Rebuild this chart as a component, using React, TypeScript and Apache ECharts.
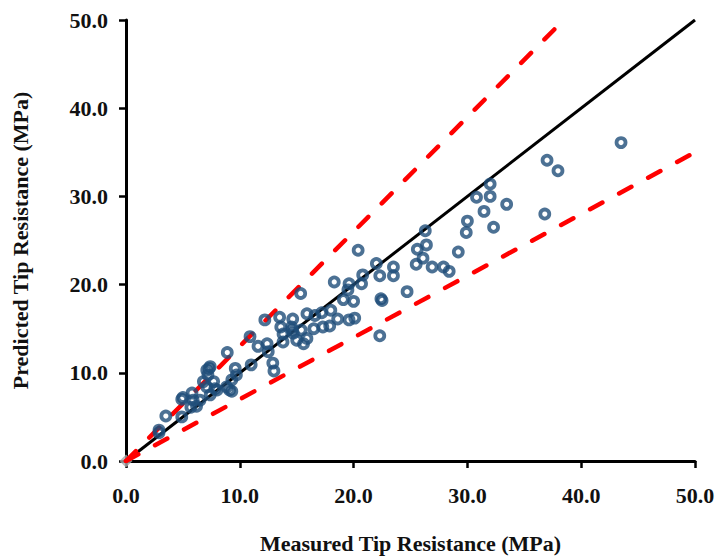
import React, { useEffect, useRef } from "react";
import * as echarts from "echarts";

const xTicks = [0, 10, 20, 30, 40, 50];
const xAxisTitle = "Measured Tip Resistance (MPa)";
const yAxisTitle = "Predicted Tip Resistance (MPa)";

const measured = [
  2.9, 2.9, 3.5, 4.9, 4.9, 5.0, 5.8, 5.9, 6.2, 5.7, 6.5, 7.4, 8.0, 7.1, 7.8, 8.85, 9.3, 9.1, 7.7, 6.8,
  9.3, 7.2, 9.7, 7.1, 7.4, 7.3, 9.6, 8.9, 11.0, 12.9, 13.0, 10.9, 11.6, 12.4, 12.5, 13.8, 15.6, 15.0, 15.9, 13.8,
  14.6, 15.4, 14.7, 12.2, 13.5, 14.65, 13.6, 14.55, 15.9, 15.35, 16.5, 17.3, 17.9, 16.6, 17.2, 18.0, 18.6, 19.6, 20.1, 18.3,
  19.6, 19.5, 19.1, 20.0, 20.8, 20.7, 20.4, 22.0, 22.3, 23.5, 23.5, 22.4, 22.5, 22.3, 24.7, 25.5, 26.1, 25.6, 26.4, 26.3,
  26.9, 27.9, 28.4, 29.2, 29.9, 30.0, 31.46, 32.3, 30.8, 32.0, 32.0, 33.45, 36.8, 37.0, 37.96, 43.5,
];
const predicted = [
  3.5, 3.2, 5.1, 5.0, 7.0, 7.2, 7.7, 6.9, 6.2, 6.1, 6.9, 7.5, 8.05, 8.4, 8.2, 8.4, 7.9, 8.05, 9.0, 9.0,
  9.2, 9.75, 9.75, 10.3, 10.7, 10.5, 10.5, 12.3, 10.9, 11.1, 10.2, 14.1, 13.0, 13.3, 12.4, 13.5, 13.3, 13.7, 13.9, 14.4,
  14.85, 14.85, 14.5, 16.0, 16.3, 16.1, 15.2, 15.2, 16.7, 19.0, 15.0, 15.2, 15.3, 16.5, 16.8, 17.1, 16.1, 16.0, 16.2, 20.3,
  20.1, 19.4, 18.3, 18.1, 21.1, 20.1, 23.9, 22.4, 21.0, 22.0, 21.0, 18.4, 18.2, 14.2, 19.2, 22.3, 23.0, 24.0, 24.5, 26.1,
  22.0, 22.0, 21.5, 23.7, 25.9, 27.2, 28.3, 26.5, 29.9, 30.0, 31.4, 29.1, 28.0, 34.1, 32.9, 36.1,
];

const lineOneToOne = [[0, 0], [50, 50]];
const upperBound = [[0, 0], [50 / 1.3, 50]];
const lowerBound = [[0, 0], [50, 35]];
const originPoint = [[0, 0]];

const FONT = "'Liberation Serif', 'Times New Roman', serif";

export default function App() {
  const ref = useRef<HTMLDivElement>(null);
  useEffect(() => {
    if (!ref.current) return;
    const chart = echarts.init(ref.current, undefined, { renderer: "svg" });
    const points = measured.map((m, i) => [m, predicted[i]]);
    const axisCommon = {
      type: "value" as const,
      min: xTicks[0],
      max: xTicks[xTicks.length - 1],
      interval: 10,
      splitLine: { show: false },
      axisLine: { show: true, onZero: false, lineStyle: { color: "#000", width: 3 } },
      axisTick: { show: true, inside: false, length: 7, lineStyle: { color: "#000", width: 2.5 } },
      axisLabel: {
        formatter: (v: number) => v.toFixed(1),
        fontFamily: FONT,
        fontWeight: "bold" as const,
        fontSize: 22,
        color: "#111",
      },
      nameLocation: "middle" as const,
      nameTextStyle: { fontFamily: FONT, fontWeight: "bold" as const, fontSize: 22, color: "#111" },
    };
    chart.setOption({
      animation: false,
      backgroundColor: "#fff",
      grid: { left: 126, right: 21, top: 20, bottom: 97, outerBoundsMode: "none", containLabel: false },
      xAxis: {
        ...axisCommon,
        name: xAxisTitle,
        nameGap: 71,
        axisLabel: { ...axisCommon.axisLabel, margin: 23 },
      },
      yAxis: {
        ...axisCommon,
        name: yAxisTitle,
        nameGap: 95,
        axisLabel: { ...axisCommon.axisLabel, margin: 18 },
      },
      series: [
        {
          type: "scatter",
          data: originPoint,
          symbol: "diamond",
          symbolSize: 13,
          itemStyle: { color: "#A6A6A6" },
          silent: true,
          z: 1,
        },
        {
          type: "line",
          data: lineOneToOne,
          showSymbol: false,
          lineStyle: { color: "#000", width: 3 },
          z: 2,
        },
        {
          type: "line",
          data: upperBound,
          showSymbol: false,
          lineStyle: { color: "#FF0000", width: 4.5, type: [14, 19], cap: "round" },
          z: 2,
        },
        {
          type: "line",
          data: lowerBound,
          showSymbol: false,
          lineStyle: { color: "#FF0000", width: 4.5, type: [14, 19], cap: "round" },
          z: 2,
        },
        {
          type: "scatter",
          data: points,
          symbol: "circle",
          symbolSize: 9,
          itemStyle: { color: "rgba(0,0,0,0)", borderColor: "#1F4E79", borderWidth: 3.8 },
          z: 3,
        },
      ],
    });
    return () => chart.dispose();
  }, []);
  return (
    <div
      ref={ref}
      style={{ position: "fixed", left: 0, top: 0, width: 716, height: 558, background: "#fff" }}
    />
  );
}
